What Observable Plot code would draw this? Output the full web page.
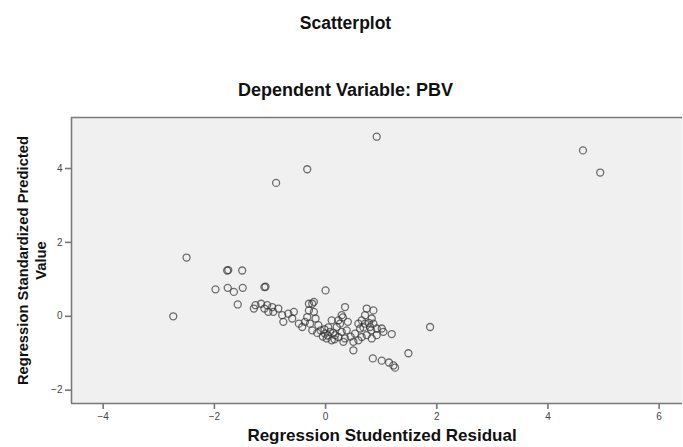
<!DOCTYPE html>
<html>
<head>
<meta charset="utf-8">
<script src="https://cdn.jsdelivr.net/npm/d3@7"></script>
<script src="https://cdn.jsdelivr.net/npm/@observablehq/plot@0.6"></script>
<style>
  html, body { margin: 0; padding: 0; background: #fff; }
  svg { display: block; }
</style>
</head>
<body>
<div id="chart"></div>
<script>
// Regression Studentized Residual (x)
const residual = [
  0.92, -0.33, -0.89, 4.63, 4.94,
  -2.50, -1.77, -1.75, -1.50, -1.98, -1.76, -1.65, -1.49, -1.10, -1.08, -1.58, -2.74, 0.00,
  1.88, 1.49, 0.85, 1.01, 1.14, 1.22, 1.25, 0.50, 1.19,
  -1.26, -1.16, -1.05, -0.96, -0.94, -1.03, -0.85, -0.78, -0.76, -0.67, -0.60, -0.57, -1.29, -1.10,
  -0.48, -0.42, -0.37, -0.33, -0.30,
  -0.24, -0.30, -0.21, -0.18, -0.28, -0.13, -0.24, -0.09, -0.01, 0.08, 0.02, 0.11, 0.17, 0.20, 0.23,
  0.29, 0.35, 0.26, 0.29, 0.23, 0.35, 0.38, 0.32, 0.50, 0.53, 0.59, 0.65, 0.62, 0.71, 0.71, 0.74,
  0.80, 0.83, 0.74, 0.65, 0.86, 0.59,
  0.86, 0.92, 1.01, 1.04, 0.92, 0.83,
  -0.21, 0.11, 0.31, -0.05, 0.05, 0.14, -0.15, 0.45, 0.40,
  0.04, 0.16, 0.78, 0.82, 0.68, -0.02
];
// Regression Standardized Predicted Value (y)
const predicted = [
  4.86, 3.98, 3.61, 4.49, 3.89,
  1.59, 1.24, 1.25, 1.24, 0.73, 0.77, 0.66, 0.77, 0.79, 0.80, 0.32, 0.00, 0.70,
  -0.29, -1.00, -1.14, -1.20, -1.25, -1.33, -1.39, -0.92, -0.48,
  0.30, 0.34, 0.30, 0.25, 0.12, 0.12, 0.21, 0.03, -0.15, 0.07, -0.06, 0.12, 0.21, 0.21,
  -0.20, -0.29, -0.15, -0.02, 0.34,
  0.34, 0.16, 0.12, -0.06, -0.20, -0.24, -0.38, -0.38, -0.47, -0.42, -0.60, -0.65, -0.51, -0.29, -0.11,
  0.03, 0.25, -0.20, -0.42, -0.56, -0.60, -0.38, -0.69, -0.69, -0.47, -0.20, -0.11, -0.33, -0.20, 0.03, 0.21,
  -0.29, -0.06, -0.51, -0.56, 0.16, -0.65,
  -0.20, -0.33, -0.33, -0.42, -0.51, -0.60,
  0.39, -0.11, -0.03, -0.55, -0.30, -0.45, -0.45, -0.55, -0.15,
  -0.52, -0.62, -0.18, -0.38, -0.30, -0.35
];
const xTicks = [-4, -2, 0, 2, 4, 6];
const yTicks = [-2, 0, 2, 4];
const xDomain = [-4.57, 6.42];
const yDomain = [-2.36, 5.38];
const chartTitle = "Scatterplot";
const chartSubtitle = "Dependent Variable: PBV";
const xLabel = "Regression Studentized Residual";
const yLabel = "Regression Standardized Predicted\nValue";

const points = residual.map((r, i) => ({residual: r, predicted: predicted[i]}));

const font = "'Liberation Sans', Arial, sans-serif";
const chart = Plot.plot({
  width: 683,
  height: 447,
  marginLeft: 71,
  marginRight: 1,
  marginTop: 117,
  marginBottom: 44,
  style: {fontFamily: font, background: "#ffffff", color: "#444"},
  x: {domain: xDomain},
  y: {domain: yDomain},
  marks: [
    Plot.frame({fill: "#f0f0f0", stroke: "none"}),
    Plot.ruleY([yDomain[1]], {stroke: "#7a7a7a", strokeWidth: 1.3}),
    Plot.ruleY([yDomain[0]], {stroke: "#7a7a7a", strokeWidth: 1.6}),
    Plot.ruleX([xDomain[0]], {stroke: "#7a7a7a", strokeWidth: 1.6}),
    Plot.axisX({ticks: xTicks, tickSize: 6, tickPadding: 3, fontSize: 10, stroke: "#777", strokeWidth: 1.6, label: null}),
    Plot.axisY({ticks: yTicks, tickSize: 6, tickPadding: 3, fontSize: 10, stroke: "#777", strokeWidth: 1.6, label: null}),
    Plot.dot(points, {x: "residual", y: "predicted", r: 3.5, stroke: "#333", strokeOpacity: 0.7, strokeWidth: 1.3, fill: "none"}),
    Plot.text([chartTitle], {frameAnchor: "top", dy: -94, dx: -31.5, fontSize: 17.5, fontWeight: "bold", fill: "#111", textAnchor: "middle", lineAnchor: "middle"}),
    Plot.text([chartSubtitle], {frameAnchor: "top", dy: -27, dx: -31.5, fontSize: 18, fontWeight: "bold", fill: "#111", textAnchor: "middle", lineAnchor: "middle"}),
    Plot.text([xLabel], {frameAnchor: "bottom", dy: 32, dx: 5, fontSize: 17, fontWeight: "bold", fill: "#111", textAnchor: "middle", lineAnchor: "middle"}),
    Plot.text([yLabel], {frameAnchor: "left", dx: -40, rotate: -90, fontSize: 14.8, fontWeight: "bold", fill: "#111", textAnchor: "middle", lineAnchor: "middle", lineHeight: 1.22})
  ]
});
document.getElementById("chart").appendChild(chart);
</script>
</body>
</html>
